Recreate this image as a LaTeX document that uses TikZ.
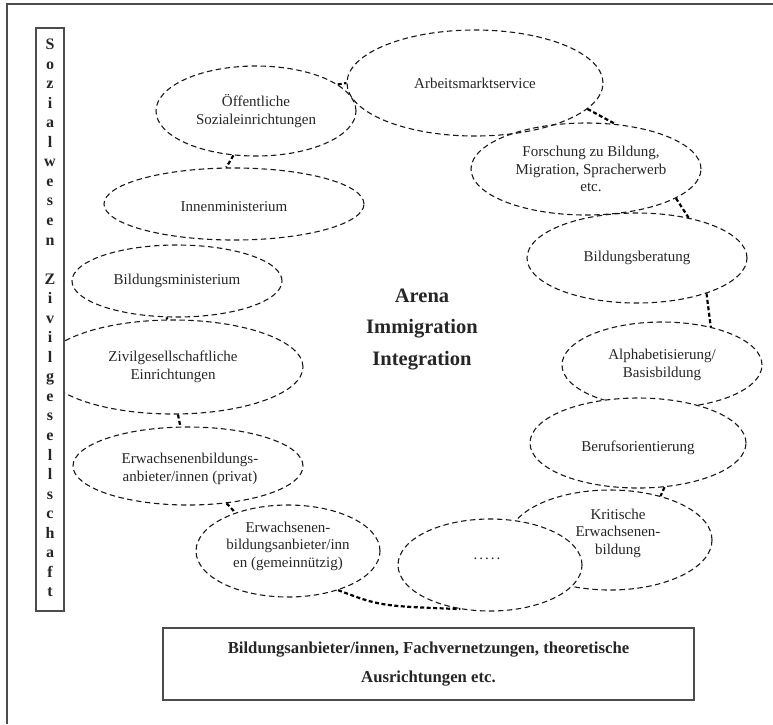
\documentclass[tikz,border=0pt]{standalone}
\usepackage{fontspec}
\setmainfont{Liberation Serif}
\usetikzlibrary{shapes.geometric}
\begin{document}
\begin{tikzpicture}[x=1pt,y=-1pt,
  ell/.style={ellipse, draw=black!90, dash pattern=on 5.5pt off 3.5pt, line width=1.1pt,
    inner sep=0pt, align=center, font=\fontsize{15}{17.5}\selectfont, text=black!85},
  txt/.style={inner sep=0pt, align=center, font=\fontsize{15}{17.5}\selectfont, text=black!85},
  conn/.style={draw=black, line width=2.2pt, dash pattern=on 4pt off 2.5pt},
  boxst/.style={draw=black!70, line width=1.4pt, fill=white, inner sep=0pt}]
\useasboundingbox (0,0) rectangle (773,724);
% outer frame
\draw[black!70, line width=1.5pt] (773,4) -- (7,4) -- (7,724);
% ellipses
\node[ell, minimum width=256, minimum height=106] (arb) at (475,83) {Arbeitsmarktservice};
\node[ell, minimum width=200, minimum height=90] (oef) at (256,111) {Öffentliche\\Sozialeinrichtungen};
\node[ell, minimum width=260, minimum height=72,
  label={[txt, yshift=-3pt]center:Innenministerium}] (inn) at (234,204) {};
\node[ell, minimum width=230, minimum height=92,
  label={[txt, xshift=5pt]center:Forschung zu Bildung,\\Migration, Spracherwerb\\etc.}] (for) at (586,169) {};
\node[ell, minimum width=220, minimum height=90] (ber) at (637,258) {Bildungsberatung};
\node[ell, minimum width=200, minimum height=86] (alp) at (662,365) {Alphabetisierung/\\Basisbildung};
\node[ell, fill=white, minimum width=216, minimum height=90,
  label={[txt, yshift=-5pt]center:Berufsorientierung}] (bor) at (638,443) {};
\node[ell, minimum width=204, minimum height=100,
  label={[txt, xshift=8pt, yshift=7pt]center:Kritische\\Erwachsenen-\\bildung}] (krit) at (610,540) {};
\node[ell, fill=white, minimum width=184, minimum height=92,
  label={[txt, xshift=-3pt, yshift=6pt]center:.\kern2pt.\kern2pt.\kern2pt.\kern2pt.}] (dots) at (490,565) {};
\node[ell, minimum width=210, minimum height=72] (bmin) at (177,281) {Bildungsministerium};
\node[ell, minimum width=260, minimum height=94] (ziv) at (173,367) {Zivilgesellschaftliche\\Einrichtungen};
\node[ell, minimum width=230, minimum height=78,
  label={[txt, xshift=2pt, yshift=-3pt]center:Erwachsenenbildungs-\\anbieter/innen (privat)}] (priv) at (188,466) {};
\node[ell, minimum width=184, minimum height=92,
  label={[txt, yshift=5pt]center:Erwachsenen-\\bildungsanbieter/inn\\en (gemeinnützig)}] (gem) at (288,551) {};
% connectors
\draw[conn] (oef.18) -- (arb.180);
\draw[conn] (oef.-117) -- (inn.102);
\draw[conn] (arb.-13) -- (for.57);
\draw[conn] (for.-18) -- (ber.38);
\draw[conn] (ber.-27) -- (alp.38);
\draw[conn] (bmin.-106) -- (ziv.97);
\draw[conn] (ziv.-84) -- (priv.101);
\draw[conn] (priv.-44) -- (gem.144);
\draw[conn] (bor.-59) -- (krit.41);
\draw[conn] (gem.-38) .. controls (380,606) .. (dots.-124);
% left box
\node[boxst, minimum width=28, minimum height=583] (lbox) at (50,319.5) {};
\node[inner sep=0pt, align=center, font=\fontsize{16}{19.55}\selectfont\bfseries, text=black!85] (lbl) at (50,318)
  {S\\o\\z\\i\\a\\l\\w\\e\\s\\e\\n\\~\\Z\\i\\v\\i\\l\\g\\e\\s\\e\\l\\l\\s\\c\\h\\a\\f\\t};
% centre text
\node[inner sep=0pt, align=center, font=\fontsize{20.5}{31.5}\selectfont\bfseries, text=black!85] (arena) at (422,329)
  {Arena\\Immigration\\Integration};
% bottom box
\node[boxst, minimum width=531, minimum height=72, align=center,
  font=\fontsize{16.7}{29}\selectfont\bfseries, text=black!85] (bot) at (428.5,664)
  {Bildungsanbieter/innen, Fachvernetzungen, theoretische\\Ausrichtungen etc.};
\end{tikzpicture}
\end{document}
